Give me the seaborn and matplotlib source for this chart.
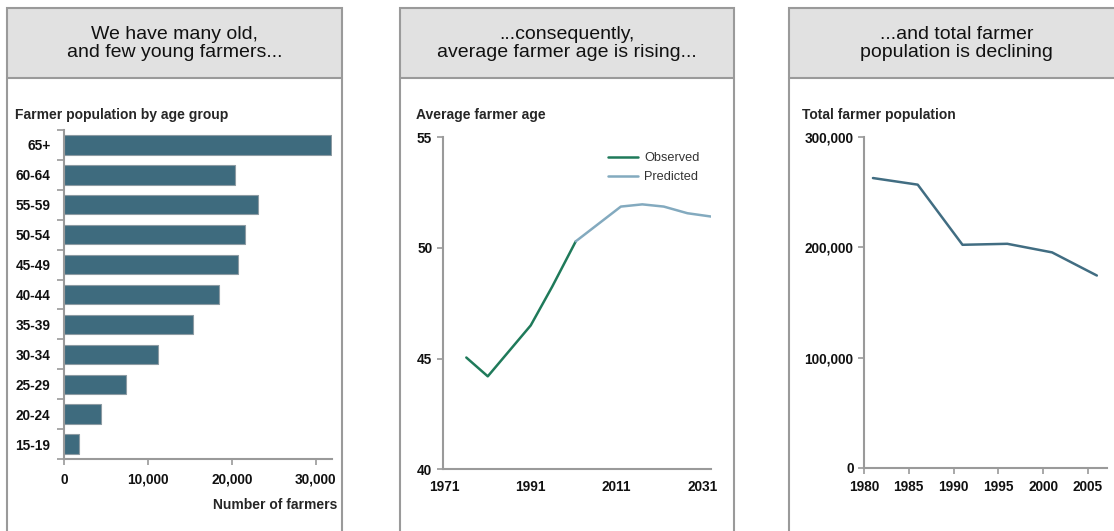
import numpy as np
import pandas as pd
import matplotlib
matplotlib.use("Agg")
import matplotlib.pyplot as plt
from matplotlib.patches import Rectangle
from matplotlib.ticker import FuncFormatter
import seaborn as sns

## Data
age_groups = ["65+", "60-64", "55-59", "50-54", "45-49", "40-44",
              "35-39", "30-34", "25-29", "20-24", "15-19"]
farmers_by_age = [31870, 20340, 23130, 21540, 20740, 18470,
                  15310, 11170, 7360, 4410, 1750]

obs_years = [1976, 1981, 1986, 1991, 1996, 2001.5]
obs_age = [45.05, 44.2, 45.35, 46.5, 48.25, 50.3]
pred_years = [2001.5, 2012, 2017, 2022, 2027.5, 2033]
pred_age = [50.3, 51.87, 51.97, 51.87, 51.57, 51.42]

pop_years = [1981, 1986, 1991, 1996, 2001, 2006]
total_pop = [263000, 257000, 202400, 203300, 195500, 174500]

sns.set_theme(style="white")
plt.rcParams["font.family"] = ["Liberation Sans", "DejaVu Sans"]

W, H = 1114, 531
fig = plt.figure(figsize=(W / 100, H / 100), dpi=100)

def box(l, t, r, b):
    return [l / W, 1 - b / H, (r - l) / W, (b - t) / H]

def ftext(x, y, s, **kw):
    fig.text(x / W, 1 - y / H, s, **kw)

grey = "#9a9a9a"
bar_col = "#3e6b7e"
tick_fs = 9.8
sub_fs = 10

##Panel frames with grey header bands
headers = ["We have many old,\nand few young farmers...",
           "...consequently,\naverage farmer age is rising...",
           "...and total farmer\npopulation is declining"]
for (l, r), head in zip([(7, 342), (400, 734), (789, 1124)], headers):
    fig.add_artist(Rectangle((l / W, 1 - 77.5 / H), (r - l) / W, 69.5 / H,
                             transform=fig.transFigure, facecolor="#e1e1e1",
                             edgecolor="none", zorder=0))
    fig.add_artist(Rectangle((l / W, -0.05), (r - l) / W, 1.05 - 8 / H,
                             transform=fig.transFigure, facecolor="none",
                             edgecolor=grey, linewidth=1.5, zorder=1))
    fig.add_artist(plt.Line2D([l / W, r / W], [1 - 77.5 / H] * 2,
                              transform=fig.transFigure, color=grey, linewidth=1.5))
    ftext((l + r) / 2, 43.5, head, ha="center", va="center", fontsize=14,
          color="#111111", linespacing=1.1)

def style_axes(ax):
    sns.despine(ax=ax)
    for sp in ["left", "bottom"]:
        ax.spines[sp].set_color(grey)
        ax.spines[sp].set_linewidth(1.5)
    ax.tick_params(colors=grey, labelcolor="#111111", labelsize=tick_fs,
                   width=1.2, length=4, direction="out", bottom=True, left=True)
    for lab in ax.get_xticklabels() + ax.get_yticklabels():
        lab.set_fontweight("bold")

thousands = FuncFormatter(lambda v, p: f"{int(v):,}")

##Panel 1 - age groups
ax1 = fig.add_axes(box(64.3, 130, 331.7, 459))
sns.barplot(x=farmers_by_age, y=age_groups, orient="h", color=bar_col,
            saturation=1, width=0.65, edgecolor="#8c9ba3", linewidth=0.8, ax=ax1)
ax1.set_xlim(0, 31900)
ax1.set_ylim(10.5, -0.5)
ax1.set_xticks([0, 10000, 20000, 30000])
ax1.xaxis.set_major_formatter(thousands)
ax1.set_yticks(np.arange(-0.5, 11, 1), minor=True)
style_axes(ax1)
ax1.tick_params(axis="y", which="major", length=0, pad=10)
ax1.tick_params(axis="y", which="minor", length=5, color=grey, width=1.2, left=True)
ax1.tick_params(axis="x", pad=6)
ax1.set_xlabel("")
ax1.set_ylabel("")
ftext(15, 115, "Farmer population by age group", fontsize=sub_fs,
      fontweight="bold", va="center")
ftext(337, 505, "Number of farmers", fontsize=sub_fs, fontweight="bold",
      ha="right", va="center")

##Panel 2 - average age
age_df = pd.DataFrame({
    "year": obs_years + pred_years,
    "age": obs_age + pred_age,
    "series": ["Observed"] * len(obs_years) + ["Predicted"] * len(pred_years),
})
ax2 = fig.add_axes(box(442.7, 137.3, 711, 469.3))
sns.lineplot(data=age_df, x="year", y="age", hue="series",
             palette={"Observed": "#1f7a5a", "Predicted": "#83aabf"},
             linewidth=1.8, ax=ax2)
ax2.set_xlim(1970.5, 2033)
ax2.set_ylim(40, 55)
ax2.set_xticks([1971, 1991, 2011, 2031])
ax2.set_yticks([40, 45, 50, 55])
style_axes(ax2)
ax2.tick_params(axis="x", length=0, pad=8)
ax2.set_xlabel("")
ax2.set_ylabel("")
leg = ax2.legend(loc="upper right", frameon=False, fontsize=9.2, handlelength=2.3,
                 handletextpad=0.5, labelspacing=0.55, bbox_to_anchor=(1.0, 0.99))
for t in leg.get_texts():
    t.set_color("#333333")
ftext(416, 115, "Average farmer age", fontsize=sub_fs, fontweight="bold", va="center")

##Panel 3 - total population
ax3 = fig.add_axes(box(864, 137.3, 1106.7, 467.7))
sns.lineplot(x=pop_years, y=total_pop, color="#416d82", linewidth=1.8, ax=ax3)
ax3.set_xlim(1980, 2007.1)
ax3.set_ylim(0, 300000)
ax3.set_xticks([1980, 1985, 1990, 1995, 2000, 2005])
ax3.set_yticks([0, 100000, 200000, 300000])
ax3.yaxis.set_major_formatter(thousands)
style_axes(ax3)
ax3.tick_params(axis="x", pad=5)
ftext(802, 115, "Total farmer population", fontsize=sub_fs, fontweight="bold", va="center")

fig.savefig("out.png", dpi=100)
